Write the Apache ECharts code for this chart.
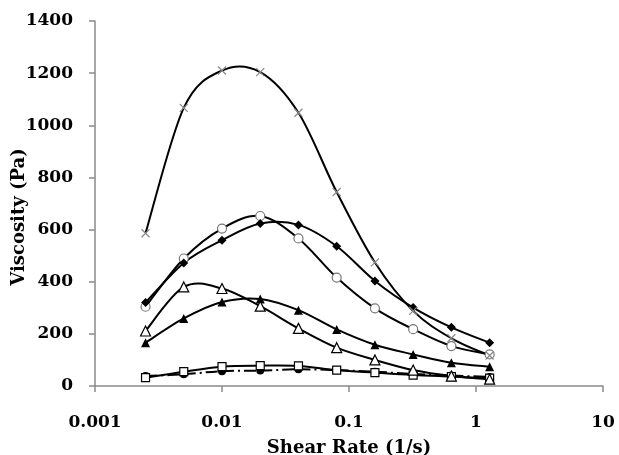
<!DOCTYPE html>
<html><head><meta charset="utf-8">
<script src="https://cdn.jsdelivr.net/npm/echarts@6/dist/echarts.min.js"></script>
<style>html,body{margin:0;padding:0;background:#fff}#c{width:619px;height:455px}</style>
</head><body><div id="c"></div>
<script>
var shearRate = [0.0025, 0.005, 0.01, 0.02, 0.04, 0.08, 0.16, 0.32, 0.64, 1.28];
var crossSeries = [586, 1067, 1210, 1204, 1048, 744, 474, 288, 183, 117];
var diamondSeries = [320, 472, 559, 623, 618, 536, 403, 301, 225, 166];
var openCircleSeries = [304, 489, 604, 652, 566, 416, 298, 218, 153, 121];
var openTriangleSeries = [211, 380, 374, 306, 221, 147, 100, 61, 38, 26];
var filledTriangleSeries = [166, 259, 322, 334, 291, 217, 158, 121, 89, 74];
var openSquareSeries = [32, 55, 74, 78, 77, 61, 51, 42, 36, 30];
var filledCircleSeries = [38, 45, 57, 59, 64, 61, 55, 46, 40, 35];
var xTicks = [0.001, 0.01, 0.1, 1, 10];
var yTicks = [0, 200, 400, 600, 800, 1000, 1200, 1400];

var font = 'DejaVu Serif';
function pts(v){ return shearRate.map(function(x,i){ return [x, v[i]]; }); }

// smooth curve drawn through the library's coordinate system (Catmull-Rom -> Bezier)
function curve(values, dash, z){
  return {
    type: 'custom', coordinateSystem: 'cartesian2d', silent: true, z: z,
    data: [[shearRate[0], values[0]]],
    renderItem: function(params, api){
      var p = values.map(function(v,i){ return api.coord([shearRate[i], v]); });
      var n = p.length, kids = [], t = 1/6;
      for (var i = 0; i < n-1; i++){
        var p0 = p[Math.max(i-1,0)], p1 = p[i], p2 = p[i+1], p3 = p[Math.min(i+2,n-1)];
        kids.push({type: 'bezierCurve', shape: {
          x1: p1[0], y1: p1[1], x2: p2[0], y2: p2[1],
          cpx1: p1[0] + (p2[0]-p0[0])*t, cpy1: p1[1] + (p2[1]-p0[1])*t,
          cpx2: p2[0] - (p3[0]-p1[0])*t, cpy2: p2[1] - (p3[1]-p1[1])*t
        }, style: {stroke: '#000', lineWidth: 2, fill: null, lineDash: dash || null}});
      }
      return {type: 'group', children: kids};
    }
  };
}
function marks(data, symbol, size, fill, border, bw, z){
  return {
    type: 'scatter', data: pts(data), symbol: symbol, symbolSize: size, z: z,
    itemStyle: {color: fill, borderColor: border, borderWidth: bw, opacity: 1},
    emphasis: {disabled: true}
  };
}
var chart = echarts.init(document.getElementById('c'));
chart.setOption({
  animation: false,
  backgroundColor: '#fff',
  grid: {left: 95, right: 16, top: 21, bottom: 69, containLabel: false, outerBoundsMode: 'none'},
  graphic: [{
    type: 'text', x: 19, y: 217, rotation: Math.PI / 2, silent: true,
    style: {text: 'Viscosity (Pa)', font: 'bold 18px "DejaVu Serif"', align: 'center', verticalAlign: 'middle', fill: '#000'}
  }],
  xAxis: {
    type: 'log', logBase: 10, min: xTicks[0], max: xTicks[xTicks.length-1],
    name: 'Shear Rate (1/s)', nameLocation: 'middle', nameGap: 53,
    nameTextStyle: {fontFamily: font, fontWeight: 'bold', fontSize: 18, color: '#000'},
    axisLine: {onZero: false, lineStyle: {color: '#8a8a8a', width: 1.5}},
    axisTick: {show: true, length: 6, lineStyle: {color: '#8a8a8a', width: 1.5}},
    minorTick: {show: false},
    splitLine: {show: false},
    axisLabel: {margin: 28, fontFamily: font, fontWeight: 'bold', fontSize: 17, color: '#000',
      formatter: function(v){ return String(+(+v).toPrecision(3)); }}
  },
  yAxis: {
    type: 'value', min: yTicks[0], max: yTicks[yTicks.length-1], interval: 200,
    axisLine: {show: true, lineStyle: {color: '#8a8a8a', width: 1.5}},
    axisTick: {show: true, length: 6, lineStyle: {color: '#8a8a8a', width: 1.5}},
    splitLine: {show: false},
    axisLabel: {margin: 22, fontFamily: font, fontWeight: 'bold', fontSize: 17, color: '#000',
      formatter: function(v){ return String(v); }}
  },
  series: [
    curve(filledCircleSeries, [12, 4, 2, 4], 1),
    curve(openSquareSeries, null, 1),
    curve(filledTriangleSeries, null, 1),
    curve(openTriangleSeries, null, 1),
    curve(openCircleSeries, null, 1),
    curve(diamondSeries, null, 1),
    curve(crossSeries, null, 1),
    marks(filledCircleSeries, 'circle', 8, '#000', '#000', 0, 3),
    marks(openSquareSeries, 'rect', 8, '#fff', '#000', 1.2, 3),
    marks(filledTriangleSeries, 'triangle', 9, '#000', '#000', 0, 3),
    marks(openTriangleSeries, 'triangle', 10, '#fff', '#000', 1.2, 3),
    marks(openCircleSeries, 'circle', 9, '#fff', '#777', 1.2, 3),
    marks(diamondSeries, 'diamond', 9, '#000', '#000', 0, 3),
    marks(crossSeries, 'path://M0,0L10,10M10,0L0,10', 8, 'none', '#888', 1.2, 3)
  ]
});
</script></body></html>
